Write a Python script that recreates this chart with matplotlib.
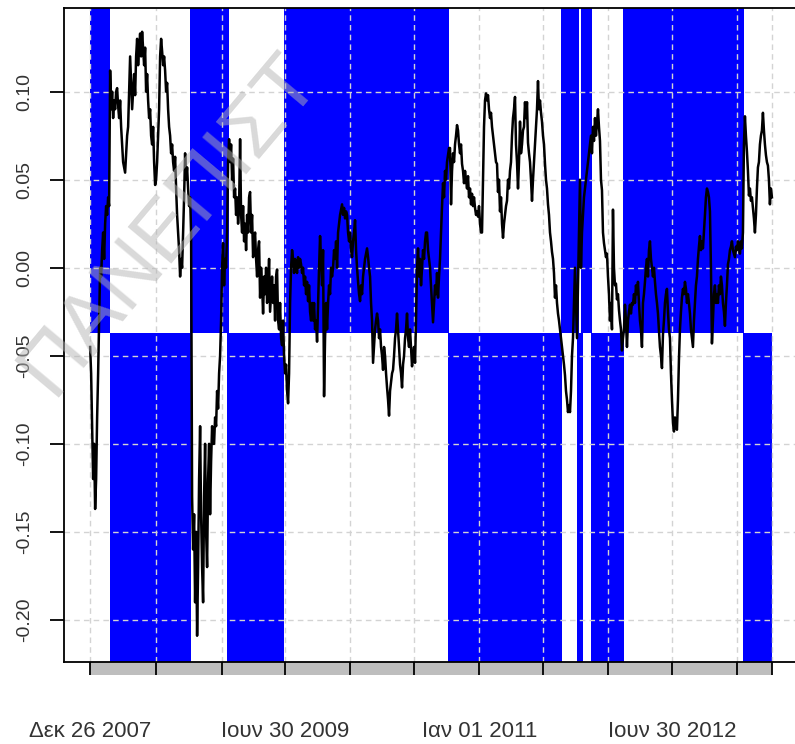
import matplotlib
matplotlib.use('Agg')
import matplotlib.pyplot as plt
import matplotlib.transforms as mtransforms
import matplotlib.dates as mdates
from matplotlib.patches import Rectangle
import pandas as pd

plt.rcParams['font.family'] = ['Liberation Sans', 'DejaVu Sans']

# ---------------- data ----------------
start_date = '2007-12-26'
end_date = '2013-04-09'

seg_a = [-0.045, -0.06, -0.09, -0.12, -0.10, -0.137, -0.12, -0.085, -0.06, -0.03,
         0.00, -0.005, 0.01, 0.02, 0.005, 0.025, 0.035, 0.03, 0.04, 0.035, 0.112]
seg_b = [0.09, 0.10, 0.085, 0.095, 0.09, 0.10, 0.102, 0.092, 0.085, 0.095,
         0.08, 0.07, 0.06, 0.057, 0.054, 0.065, 0.075, 0.08, 0.10, 0.12,
         0.105, 0.09, 0.10, 0.11, 0.098, 0.12, 0.13, 0.115, 0.125, 0.133,
         0.12, 0.134, 0.125, 0.115, 0.125, 0.10, 0.11, 0.095, 0.085, 0.09,
         0.075, 0.07, 0.08, 0.06, 0.047, 0.05, 0.06, 0.075, 0.09, 0.12,
         0.13, 0.123, 0.115, 0.12, 0.112, 0.10, 0.105, 0.09, 0.08, 0.075,
         0.065, 0.07, 0.06, 0.055, 0.063, 0.045, 0.03, 0.02, 0.01, -0.005,
         0.005, 0.0, 0.02, 0.04, 0.065, 0.05, 0.057, 0.045, 0.035, 0.04]
seg_c = [0.02, -0.13, -0.16, -0.14, -0.19, -0.15, -0.209, -0.17, -0.12, -0.09,
         -0.14, -0.17, -0.19, -0.13, -0.10, -0.15, -0.17, -0.12, -0.10, -0.14,
         -0.11, -0.09, -0.10, -0.10, -0.085, -0.09, -0.07, -0.08, -0.06, -0.05,
         -0.03, 0.0, 0.014, -0.01, 0.005, 0.0, 0.02, 0.06, 0.073]
seg_d = [0.06, 0.07, 0.05, 0.062, 0.04, 0.045, 0.03, 0.04, 0.025, 0.035,
         0.073, 0.03, 0.02, 0.035, 0.015, 0.025, 0.01, 0.03, 0.02, 0.04,
         0.043, 0.02, 0.03, 0.006, 0.015, 0.02, 0.005, -0.005, 0.01, 0.015,
         -0.017, 0.0, -0.01, -0.026, -0.005, -0.015, 0.0, -0.02, -0.01, 0.005,
         -0.025, -0.015, -0.005, -0.02, -0.01, -0.03, -0.005, -0.001, -0.03, -0.035,
         -0.02, -0.04, -0.044, -0.03, -0.05, -0.06, -0.055, -0.07, -0.077, -0.06,
         -0.02, 0.0]
seg_e = [0.01, 0.005, -0.003, 0.005, 0.0, -0.003, 0.006, 0.0, 0.005, 0.002,
         -0.003, 0.0, -0.01, -0.005, -0.015, -0.008, -0.019, -0.01, -0.025, -0.03,
         -0.02, -0.03, -0.02, -0.035, -0.03, -0.042, -0.02, 0.0, 0.018, 0.005,
         -0.01, 0.01, -0.073, -0.04, -0.02, -0.035, -0.02, -0.01, -0.015, 0.0,
         -0.005, 0.0, 0.01, 0.005, 0.015, 0.0, 0.02, 0.025, 0.03, 0.033,
         0.036, 0.03, 0.034, 0.028, 0.032, 0.03, 0.02, 0.015, 0.02, 0.01,
         0.006, 0.015, 0.02, 0.027, 0.01, 0.0, -0.008, -0.015, -0.019, -0.01,
         -0.015, -0.005, 0.0, 0.005, 0.008, 0.011, 0.006, 0.0, -0.005, -0.02,
         -0.03, -0.054, -0.045, -0.035, -0.03, -0.026, -0.03, -0.04, -0.035, -0.045,
         -0.05, -0.058, -0.045, -0.05, -0.06, -0.068, -0.075, -0.084, -0.07, -0.065,
         -0.06, -0.058, -0.05, -0.04, -0.035, -0.026, -0.035, -0.045, -0.055, -0.06,
         -0.068, -0.055, -0.05, -0.04, -0.035, -0.026, -0.04, -0.045, -0.035, -0.045,
         -0.056, -0.05, -0.045, -0.054, -0.03, 0.0, 0.011]
seg_f = [-0.005, 0.005, -0.01, 0.0, 0.01, 0.005, 0.015, 0.02, 0.02, 0.01,
         0.005, 0.0, -0.01, -0.02, -0.031, -0.02, -0.01, -0.015, -0.003, -0.017,
         -0.005, 0.005, 0.02, 0.035, 0.048, 0.04, 0.055, 0.05, 0.06, 0.064,
         0.068]
seg_g = [0.068, 0.036, 0.055, 0.065, 0.06, 0.07, 0.075, 0.081, 0.078, 0.07,
         0.065, 0.07, 0.059, 0.055, 0.048, 0.055, 0.05, 0.045, 0.052, 0.04,
         0.045, 0.036, 0.042, 0.035, 0.04, 0.034, 0.03, 0.032, 0.029, 0.035,
         0.025, 0.02, 0.02, 0.05, 0.08, 0.095, 0.099, 0.095, 0.098, 0.09,
         0.085, 0.088, 0.08, 0.075, 0.07, 0.065, 0.06, 0.059, 0.043, 0.05,
         0.032, 0.04, 0.025, 0.017, 0.025, 0.03, 0.035, 0.038, 0.05, 0.045,
         0.055, 0.06, 0.075, 0.085, 0.09, 0.097, 0.07, 0.06, 0.045, 0.06,
         0.083, 0.065, 0.07, 0.078, 0.08, 0.094, 0.085, 0.094, 0.071, 0.065,
         0.06, 0.05, 0.038, 0.05, 0.06, 0.071, 0.08, 0.09, 0.106, 0.09,
         0.095, 0.088, 0.083, 0.075, 0.07, 0.059, 0.05, 0.045, 0.036, 0.03,
         0.02, 0.015, 0.009, 0.005, -0.003, -0.017, -0.01, -0.02, -0.026, -0.03,
         -0.035, -0.04, -0.045]
seg_h = [-0.05, -0.055, -0.061, -0.07, -0.075, -0.082, -0.078, -0.082, -0.07, -0.05,
         -0.04, -0.02, 0.0, -0.02, -0.04, -0.01, 0.02, 0.05, 0.0, 0.02,
         0.03, 0.04, 0.045, 0.05, 0.055, 0.06, 0.065, 0.07, 0.075, 0.065,
         0.08, 0.072, 0.085, 0.075, 0.082, 0.09, 0.08, 0.072, 0.05, 0.044,
         0.02, 0.014, 0.01, 0.006, 0.008, -0.005, -0.015, -0.03, -0.02, -0.035,
         0.033, 0.0, -0.01, -0.009, -0.018, -0.015, -0.024, -0.03, -0.035, -0.047,
         -0.04]
seg_i = [-0.035, -0.021, -0.03, -0.045, -0.03, -0.025, -0.021, -0.026, -0.02, -0.021,
         -0.015, -0.02, -0.01, -0.015, -0.008, -0.02, -0.03, -0.035, -0.045, -0.02,
         -0.015, -0.008, 0.0, 0.005, -0.005, 0.01, 0.015, 0.005, 0.0, -0.005,
         0.0, -0.008, -0.015, -0.02, -0.026, -0.035, -0.045, -0.05, -0.057, -0.038,
         -0.03, -0.02, -0.015, -0.012, -0.025, -0.035, -0.04, -0.06, -0.075, -0.088,
         -0.093, -0.085, -0.09, -0.092, -0.075, -0.052, -0.035, -0.025, -0.017, -0.012,
         -0.015, -0.008, -0.012, -0.02, -0.015, -0.02, -0.026, -0.035, -0.04, -0.045,
         -0.03, -0.02, -0.01, -0.005, 0.005, 0.012, 0.018, 0.01, 0.015, 0.011,
         0.02, 0.03, 0.04, 0.045, 0.043, 0.04, 0.032, 0.0, -0.043, -0.03,
         -0.015, -0.01, -0.02, -0.015, -0.02, -0.01, -0.015, -0.005, -0.01, -0.02,
         -0.025, -0.033, -0.02, -0.01, 0.002, 0.005, 0.01, 0.012, 0.015, 0.01,
         0.008, 0.006, 0.012, 0.01, 0.015, 0.012, 0.008, 0.015, 0.011, 0.02]
seg_j = [0.07, 0.086, 0.075, 0.066, 0.055, 0.041, 0.045, 0.038, 0.04, 0.034,
         0.028, 0.02, 0.03, 0.045, 0.057, 0.06, 0.07, 0.075, 0.078, 0.088,
         0.078, 0.07, 0.064, 0.06, 0.058, 0.05, 0.036, 0.045, 0.04]

values = seg_a + seg_b + seg_c + seg_d + seg_e + seg_f + seg_g + seg_h + seg_i + seg_j

threshold = -0.037

upper_periods = [('2007-12-26', '2008-02-20'), ('2008-10-04', '2009-01-22'),
                 ('2009-06-27', '2010-10-07'), ('2011-08-20', '2011-10-12'),
                 ('2011-10-15', '2011-11-16'), ('2012-02-12', '2013-01-20')]
lower_periods = [('2008-02-20', '2008-10-07'), ('2009-01-17', '2009-06-27'),
                 ('2010-10-04', '2011-08-23'), ('2011-10-05', '2011-10-22'),
                 ('2011-11-13', '2012-02-15'), ('2013-01-17', '2013-04-09')]

tick_dates = ['2007-12-26', '2008-06-30', '2009-01-02', '2009-06-30', '2010-01-01',
              '2010-06-30', '2011-01-01', '2011-06-30', '2012-01-02', '2012-06-30',
              '2012-12-31', '2013-04-09']
tick_labels = ['Δεκ 26 2007', '', '', 'Ιουν 30 2009', '', '', 'Ιαν 01 2011', '', '',
               'Ιουν 30 2012', '', '']
ytick_vals = [0.10, 0.05, 0.00, -0.05, -0.10, -0.15, -0.20]
ytick_labels = ['0.10', '0.05', '0.00', '-0.05', '-0.10', '-0.15', '-0.20']

watermark = 'ΠΑΝΕΠΙΣΤ'

# ---------------- plot ----------------
dates = pd.date_range(start_date, end_date, periods=len(values))
t0 = pd.Timestamp(start_date)

W, H = 795, 744
fig = plt.figure(figsize=(W / 100, H / 100), dpi=100)
left_px, right_px, top_px, bot_px = 64, 803, 8, 662
ax = fig.add_axes([left_px / W, 1 - bot_px / H, (right_px - left_px) / W, (bot_px - top_px) / H])
ax.set_ylim(-0.2239, 0.1475)
ax.set_xlim(t0 - pd.Timedelta(days=74), t0 + pd.Timedelta(days=2019))

y0, y1 = ax.get_ylim()
thr_frac = (threshold - y0) / (y1 - y0)
for a, b in upper_periods:
    ax.axvspan(pd.Timestamp(a), pd.Timestamp(b), ymin=thr_frac, ymax=1,
               facecolor='#0000ff', edgecolor='none', zorder=1)
for a, b in lower_periods:
    ax.axvspan(pd.Timestamp(a), pd.Timestamp(b), ymin=0, ymax=thr_frac,
               facecolor='#0000ff', edgecolor='none', zorder=1)

grid_kw = dict(color='#d3d3d3', linestyle=(0, (4, 3)), linewidth=1.0, zorder=2)
for t in tick_dates:
    ax.axvline(pd.Timestamp(t), **grid_kw)
for yv in ytick_vals:
    ax.axhline(yv, **grid_kw)

ax.plot(dates, values, color='black', linewidth=1.8, zorder=3)

# grey bar under the x axis
trans = mtransforms.blended_transform_factory(ax.transData, ax.transAxes)
xs = mdates.date2num(pd.Timestamp(start_date))
xe = mdates.date2num(pd.Timestamp(end_date))
bar_h = 13 / (bot_px - top_px)
ax.add_patch(Rectangle((xs, -bar_h), xe - xs, bar_h, transform=trans,
                       facecolor='#bebebe', edgecolor='none', clip_on=False, zorder=0.5))

ax.set_xticks([pd.Timestamp(t) for t in tick_dates])
ax.set_xticklabels(tick_labels)
ax.set_yticks(ytick_vals)
ax.set_yticklabels(ytick_labels)

ax.tick_params(axis='x', direction='out', length=9.4, width=1.3, color='black',
               pad=33, labelsize=16, labelcolor='#333333')
ax.tick_params(axis='y', direction='out', length=10, width=1.3, color='black',
               pad=12, labelsize=14, labelcolor='#333333')
for lab in ax.get_yticklabels():
    lab.set_rotation(90)
    lab.set_va('center')

for side in ['left', 'bottom', 'top']:
    ax.spines[side].set_color('black')
    ax.spines[side].set_linewidth(1.3)
    ax.spines[side].set_zorder(4)
ax.spines['right'].set_visible(False)

# watermark
fig.text(52 / W, 1 - 398 / H, watermark, fontsize=60, color='#b4b4b4', alpha=0.5,
         rotation=50, rotation_mode='anchor', ha='left', va='baseline', zorder=10)

fig.savefig('out.png', dpi=100)
